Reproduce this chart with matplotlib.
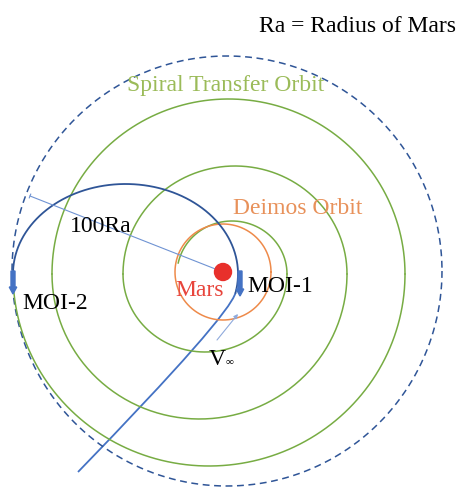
import numpy as np
import matplotlib.pyplot as plt
from matplotlib.path import Path
from matplotlib.patches import PathPatch

# Everything is in the pixel units of the original slide (y grows downward)
W, H = 459, 489

# Mars and Deimos orbit
mars_c = (223, 273)
mars_r = 8.5
deimos_r = 48

# outer dashed boundary (100 Ra)
bound_c = (227, 272)
bound_r = 215

# spiral transfer orbit as half-arcs, outermost first
spiral_cy = 275
spiral_cx = [209, 228.5, 199.5, 235, 205, 232]
spiral_rx = [196, 176.5, 147.5, 112, 82, 55]
spiral_ry = [192, 175, 145, 108, 78, 53]
spiral_half = ['lower', 'upper', 'lower', 'upper', 'lower', 'upper']
spiral_end_deg = [180, 180, 180, 180, 180, 168]

# captured ellipse after MOI-1
ell_c = (125.5, 275)
ell_a, ell_b = 112.5, 90
ell_start_deg, ell_end_deg = -12, 180

# hyperbolic approach leg
approach_start = (78, 473)
approach_dir = (1.0, -1.03)

# radius marker
radius_end = (30, 197)

# manoeuvre arrows (x, y_top, y_bottom)
moi1 = (240, 272, 297)
moi2 = (13, 272, 295)
vinf_tail, vinf_head = (217, 341), (238, 315)

green = '#77AC43'
orange = '#EE8A4A'
navy = '#2F5597'
blue = '#4472C4'

plt.rcParams['font.family'] = ['Liberation Serif', 'DejaVu Serif']

fig = plt.figure(figsize=(W / 100, H / 100), dpi=100)
ax = fig.add_axes([0, 0, 1, 1])
ax.set_xlim(0, W)
ax.set_ylim(H, 0)
ax.axis('off')

# dashed boundary
t = np.linspace(0, 2 * np.pi, 400)
ax.plot(bound_c[0] + bound_r * np.cos(t), bound_c[1] + bound_r * np.sin(t),
        color=navy, lw=1.1, dashes=(4.5, 3))

# spiral
for cx, rx, ry, half, end in zip(spiral_cx, spiral_rx, spiral_ry, spiral_half, spiral_end_deg):
    e = np.radians(end)
    if half == 'lower':
        t = np.linspace(np.pi, np.pi - e, 200)
    else:
        t = np.linspace(0, -e, 200)
    ax.plot(cx + rx * np.cos(t), spiral_cy + ry * np.sin(t), color=green, lw=1.1)

# Deimos orbit
t = np.linspace(0, 2 * np.pi, 300)
ax.plot(mars_c[0] + deimos_r * np.cos(t), mars_c[1] + deimos_r * np.sin(t),
        color=orange, lw=1.1)

# capture ellipse
th = np.radians(np.linspace(ell_start_deg, ell_end_deg, 300))
ax.plot(ell_c[0] + ell_a * np.cos(th), ell_c[1] - ell_b * np.sin(th), color=navy, lw=1.3)

# approach leg: quadratic curve tangent to the ellipse at its start
th0 = np.radians(ell_start_deg)
p2 = np.array([ell_c[0] + ell_a * np.cos(th0), ell_c[1] - ell_b * np.sin(th0)])
tan = np.array([-ell_a * np.sin(th0), -ell_b * np.cos(th0)])
p0 = np.array(approach_start)
d0 = np.array(approach_dir)
sol = np.linalg.solve(np.column_stack([d0, tan]), p2 - p0)
p1 = p0 + sol[0] * d0
approach = Path([p0, p1, p2], [Path.MOVETO, Path.CURVE3, Path.CURVE3])
ax.add_patch(PathPatch(approach, fill=False, edgecolor=blue, lw=1.3))

# radius marker
ax.plot([radius_end[0], mars_c[0]], [radius_end[1], mars_c[1]], color='#6F93D3', lw=0.8)
vx, vy = mars_c[0] - radius_end[0], mars_c[1] - radius_end[1]
n = np.array([-vy, vx]) / np.hypot(vx, vy) * 2
ax.plot([radius_end[0] - n[0], radius_end[0] + n[0]],
        [radius_end[1] - n[1], radius_end[1] + n[1]], color='#6F93D3', lw=0.8)

# Mars
ax.add_patch(plt.Circle(mars_c, mars_r, color='#E8302B', zorder=5))

# MOI arrows
for x, y0, y1 in (moi1, moi2):
    ax.arrow(x, y0, 0, y1 - y0 - 7, width=4, head_width=7.5, head_length=7,
             length_includes_head=False, color=blue, zorder=6)

# V-infinity arrow
ax.annotate('', xy=vinf_head, xytext=vinf_tail,
            arrowprops=dict(arrowstyle='-|>', color='#8FAADC', lw=0.8,
                            mutation_scale=6, shrinkA=0, shrinkB=0))

fs = 17
ax.text(259, 32, 'Ra = Radius of Mars', fontsize=fs, color='black', va='baseline')
ax.text(127, 91, 'Spiral Transfer Orbit', fontsize=fs, color='#9BBB59', va='baseline')
ax.text(233, 214, 'Deimos Orbit', fontsize=fs, color='#E8915A', va='baseline')
ax.text(70, 232, '100Ra', fontsize=fs, color='black', va='baseline')
ax.text(175, 296, 'Mars', fontsize=fs, color='#E8453C', va='baseline')
ax.text(247, 292, 'MOI-1', fontsize=fs, color='black', va='baseline')
ax.text(22, 309, 'MOI-2', fontsize=fs, color='black', va='baseline')
ax.text(209, 365, 'V', fontsize=fs, color='black', va='baseline')
ax.text(226, 364, '∞', fontsize=8, color='black', va='baseline')

fig.savefig('out.png', dpi=100)
